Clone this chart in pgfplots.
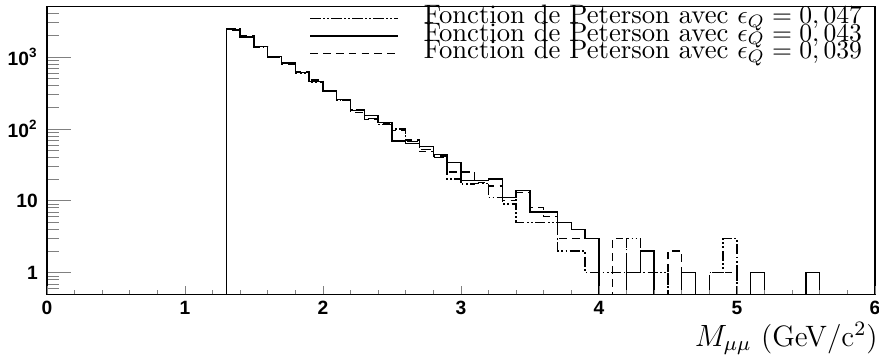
\documentclass[border=0pt]{standalone}
\usepackage{fontspec}
\setsansfont{Liberation Sans}
\usepackage{pgfplots}
\usepackage{pgfplotstable}
\pgfplotsset{compat=1.18}

% histogram contents, one row per bin left edge (0.1 = empty bin, below ymin)
\pgfplotstableread{
x y
1.3 0.1
1.3 2450
1.4 1880
1.5 1380
1.6 1000
1.7 810
1.8 600
1.9 440
2.0 335
2.1 250
2.2 185
2.3 140
2.4 114
2.5 100
2.6 66
2.7 52
2.8 40
2.9 20
3.0 17
3.1 17.5
3.2 11
3.3 9
3.4 5
3.5 5
3.6 5
3.7 2
3.8 2
3.9 1
4.0 1
4.1 1
4.2 3
4.3 1
4.4 1
4.5 0.1
4.6 0.1
4.7 0.1
4.8 1
4.9 3
5.0 0.1
}\epsA

\pgfplotstableread{
x y
1.3 0.1
1.3 2400
1.4 1900
1.5 1390
1.6 1010
1.7 820
1.8 610
1.9 455
2.0 337
2.1 258
2.2 179
2.3 152
2.4 122
2.5 68
2.6 63
2.7 57
2.8 44
2.9 34
3.0 19
3.1 19
3.2 20
3.3 11
3.4 14
3.5 7
3.6 7
3.7 5
3.8 4
3.9 3
4.0 0.1
4.1 0.1
4.2 1
4.3 2
4.4 0.1
4.5 0.1
4.6 1
4.7 0.1
4.8 0.1
4.9 0.1
5.0 0.1
5.1 1
5.2 0.1
5.3 0.1
5.4 0.1
5.5 1
5.6 0.1
}\epsB

\pgfplotstableread{
x y
1.3 0.1
1.3 2350
1.4 1950
1.5 1400
1.6 1000
1.7 800
1.8 625
1.9 480
2.0 330
2.1 252
2.2 170
2.3 136
2.4 118
2.5 95
2.6 70
2.7 48
2.8 42
2.9 25
3.0 25
3.1 18
3.2 16
3.3 10
3.4 13
3.5 8
3.6 6
3.7 3
3.8 3
3.9 3
4.0 0.1
4.1 3
4.2 0.1
4.3 0.1
4.4 0.1
4.5 2
4.6 0.1
4.7 0.1
4.8 1
4.9 1
5.0 0.1
}\epsC

\pgfplotsset{
  histbox/.style={
    at={(0,0)}, anchor=south west,
    scale only axis, width=323pt, height=112.2pt,
    xmin=0, xmax=6, ymin=0.5, ymax=5000,
    tick pos=left, tick align=inside,
    ticklabel style={font=\sffamily\bfseries\fontsize{7.5}{8}\selectfont},
  },
}

\begin{document}
\begin{tikzpicture}
% y axis (long ticks), curves and legend
\begin{axis}[
  ymode=log, histbox,
  xtick=\empty,
  ytick={1,10,100,1000},
  yticklabels={1,10,10\textsuperscript{2},10\textsuperscript{3}},
  minor ytick={0.6,0.7,0.8,0.9,2,3,4,5,6,7,8,9,20,30,40,50,60,70,80,90,
    200,300,400,500,600,700,800,900,2000,3000,4000},
  major tick length=9.4pt, minor tick length=4.7pt,
  axis line style={line width=0.5pt},
  legend style={draw=none, fill=none, inner sep=0pt,
    at={(axis description cs:0.985,0.99)}, anchor=north east,
    font=\fontsize{10.4}{11}\selectfont,
    nodes={inner sep=0pt, text height=5.3pt, text depth=1.5pt},
    /tikz/every odd column/.append style={column sep=10pt}},
  legend cell align=left,
  legend image code/.code={\draw[#1] (0pt,0pt) -- (34pt,0pt);},
]
\addplot[const plot mark left, black, line width=0.55pt,
  dash pattern=on 4pt off 1pt on 0.6pt off 1pt on 0.6pt off 1pt]
  table {\epsA};
\addlegendentry{Fonction de Peterson avec $\epsilon_Q = 0,047$}
\addplot[const plot mark left, black, line width=0.55pt] table {\epsB};
\addlegendentry{Fonction de Peterson avec $\epsilon_Q = 0,043$}
\addplot[const plot mark left, black, line width=0.55pt,
  dash pattern=on 3pt off 2pt] table {\epsC};
\addlegendentry{Fonction de Peterson avec $\epsilon_Q = 0,039$}
\end{axis}
% x axis (short ticks) and its label
\begin{axis}[
  ymode=log, histbox,
  axis line style={draw=none},
  ytick=\empty,
  xtick={0,1,2,3,4,5,6}, xticklabels={0,1,2,3,4,5,6},
  minor x tick num=4,
  major tick length=3.4pt, minor tick length=1.7pt,
  xticklabel style={yshift=1pt},
  xlabel={$M_{\mu\mu}$ (GeV/c$^2$)},
  x label style={at={(axis description cs:1.004,-0.153)}, anchor=east,
    inner sep=0pt, font=\fontsize{11.5}{13}\selectfont},
]
\end{axis}
\pgfresetboundingbox
\path[use as bounding box] (-18.3pt,-24.1pt) rectangle (324.6pt,114.8pt);
\end{tikzpicture}
\end{document}
